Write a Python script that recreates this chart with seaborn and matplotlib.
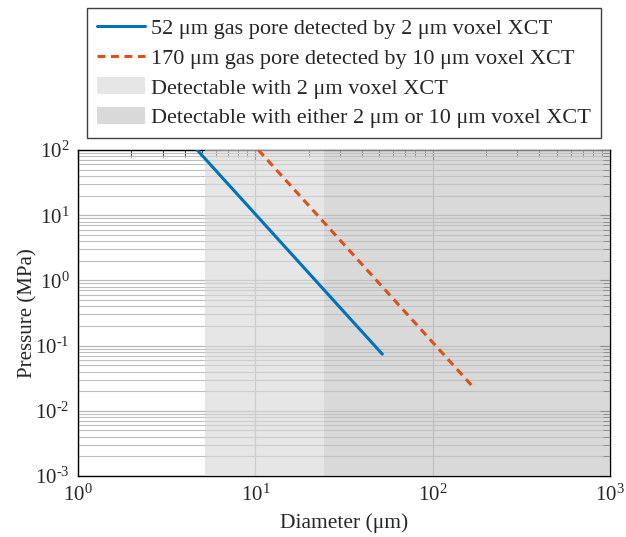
import numpy as np
import pandas as pd
import seaborn as sns
import matplotlib.pyplot as plt
from matplotlib.ticker import LogLocator, NullFormatter, FuncFormatter

sns.set_theme(style='white')
plt.rcParams['font.family'] = ['Liberation Serif', 'DejaVu Serif']
plt.rcParams['mathtext.fontset'] = 'custom'
plt.rcParams['mathtext.rm'] = 'Liberation Serif'
plt.rcParams['mathtext.it'] = 'Liberation Serif:italic'

# Pore pressure curves (straight lines on log-log axes, endpoints).
blue_diameter = [4.7, 52]
blue_pressure = [100, 0.074]
red_diameter = [10.4, 170]
red_pressure = [100, 0.0228]

# Detectable diameter ranges.
range_2um = [5.2, 24.4]
range_both = [24.4, 1000]

labels = [
    '52 \u03bcm gas pore detected by 2 \u03bcm voxel XCT',
    '170 \u03bcm gas pore detected by 10 \u03bcm voxel XCT',
    'Detectable with 2 \u03bcm voxel XCT',
    'Detectable with either 2 \u03bcm or 10 \u03bcm voxel XCT',
]


def decade_label(value, pos):
    # MATLAB-style 10^n labels, with a short hyphen for negative exponents
    exp = int(round(np.log10(value)))
    sign = '\u2010' if exp < 0 else ''
    return '$10^{%s%d}$' % (sign, abs(exp))


fig = plt.figure(figsize=(6.26, 5.37), dpi=100)
ax = fig.add_axes([78 / 626, 1 - 476 / 537, 532 / 626, 326 / 537])

blue_df = pd.DataFrame({'diameter': blue_diameter, 'pressure': blue_pressure})
red_df = pd.DataFrame({'diameter': red_diameter, 'pressure': red_pressure})
sns.lineplot(data=blue_df, x='diameter', y='pressure', ax=ax, color='#0072BD',
             lw=2.2, label=labels[0], zorder=4)
sns.lineplot(data=red_df, x='diameter', y='pressure', ax=ax, color='#D95319',
             lw=2.2, dashes=False, label=labels[1], zorder=4)
ax.lines[-1].set_dashes((2.6, 1.8))

ax.axvspan(*range_2um, color='#d8d8d8', alpha=0.64, lw=0, zorder=3, label=labels[2])
ax.axvspan(*range_both, color='#c4c4c4', alpha=0.64, lw=0, zorder=3, label=labels[3])

ax.set_xscale('log')
ax.set_yscale('log')
ax.set_xlim(1, 1000)
ax.set_ylim(1e-3, 1e2)
ax.xaxis.set_minor_locator(LogLocator(base=10, subs=np.arange(2, 10)))
ax.yaxis.set_minor_locator(LogLocator(base=10, subs=np.arange(2, 10)))
ax.xaxis.set_minor_formatter(NullFormatter())
ax.yaxis.set_minor_formatter(NullFormatter())
ax.xaxis.set_major_formatter(FuncFormatter(decade_label))
ax.yaxis.set_major_formatter(FuncFormatter(decade_label))

ax.grid(True, which='major', axis='both', color='#b8b8b8', lw=0.9)
ax.grid(True, which='minor', axis='y', color='#bdbdbd', lw=0.8)
ax.tick_params(which='both', direction='in', top=True, right=True,
               color='#333333', labelsize=15)
ax.tick_params(which='major', length=7, width=0.8, pad=6)
ax.tick_params(which='minor', length=5, width=0.7)
for side in ax.spines.values():
    side.set_color('black')
    side.set_linewidth(1.0)

ax.set_xlabel('Diameter (\u03bcm)', fontsize=15.5, labelpad=5.5)
ax.set_ylabel('Pressure (MPa)', fontsize=15, labelpad=-2)

handles, _ = ax.get_legend_handles_labels()
ax.get_legend().remove()
leg = fig.legend(handles=handles, labels=labels, loc='upper left',
                 bbox_to_anchor=(87 / 626, 1 - 8 / 537), fontsize=16,
                 frameon=True, fancybox=False, framealpha=1, edgecolor='#404040',
                 borderpad=0.45, labelspacing=0.38, handlelength=2.15,
                 handleheight=0.8, handletextpad=0.3, borderaxespad=0)
leg.get_frame().set_linewidth(1.0)

fig.savefig('out.png', dpi=100)
